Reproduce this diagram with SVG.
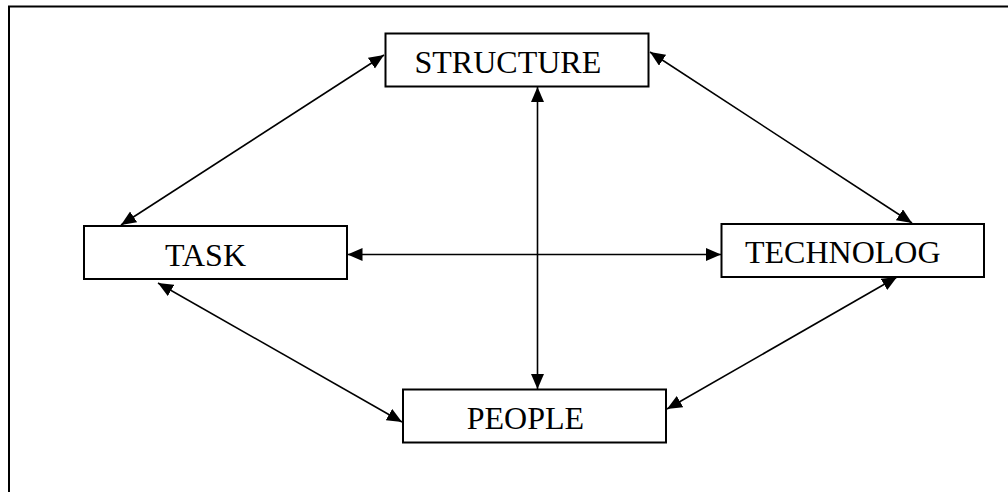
<svg xmlns="http://www.w3.org/2000/svg" width="1008" height="492" viewBox="0 0 1008 492">
<style>
.box{fill:#fff;stroke:#000;stroke-width:2}
.lbl{font-family:"Liberation Serif","Times New Roman",serif;font-size:32px;fill:#000}
.con{stroke:#000;stroke-width:1.6;fill:none;marker-start:url(#ah);marker-end:url(#ah)}
</style>
<defs>
<marker id="ah" markerUnits="userSpaceOnUse" markerWidth="16" markerHeight="14" refX="15" refY="6.5" orient="auto-start-reverse">
<path d="M0,0 L15,6.5 L0,13 z" fill="#000"/>
</marker>
</defs>
<rect width="1008" height="492" fill="#fff"/>
<path d="M9,492 L9,6.5 L1008,6.5" fill="none" stroke="#000" stroke-width="2"/>
<g id="connectors">
<line class="con" x1="384" y1="55" x2="121" y2="225"/>
<line class="con" x1="650" y1="52" x2="912" y2="223"/>
<line class="con" x1="537.5" y1="87" x2="537.5" y2="389"/>
<line class="con" x1="347.5" y1="254.5" x2="721" y2="254.5"/>
<line class="con" x1="158" y1="283" x2="402" y2="422"/>
<line class="con" x1="897" y1="277" x2="667" y2="409"/>
</g>
<g id="structure">
<rect class="box" x="385.5" y="33.5" width="263" height="53"/>
<text class="lbl" x="414.5" y="73.3">STRUCTURE</text>
</g>
<g id="task">
<rect class="box" x="84" y="226" width="263" height="53"/>
<text class="lbl" x="165" y="266">TASK</text>
</g>
<g id="technology">
<rect class="box" x="721.5" y="224" width="262.5" height="53"/>
<text class="lbl" x="745" y="263.3">TECHNOLOG</text>
</g>
<g id="people">
<rect class="box" x="403" y="389.5" width="263" height="53"/>
<text class="lbl" x="466.7" y="429.3">PEOPLE</text>
</g>
</svg>
